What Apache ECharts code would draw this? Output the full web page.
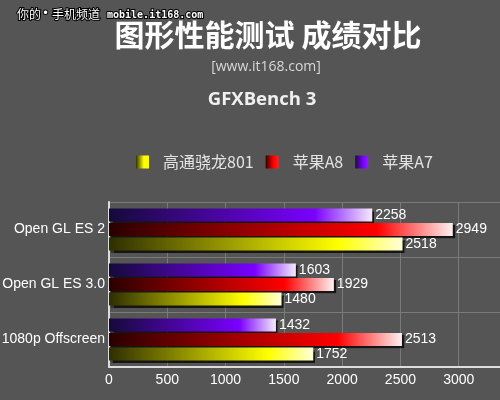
<!DOCTYPE html>
<html><head><meta charset="utf-8">
<script src="https://cdn.jsdelivr.net/npm/echarts@6/dist/echarts.min.js"></script>
<style>html,body{margin:0;padding:0;background:#555555}#c{width:500px;height:400px}</style>
</head><body><div id="c"></div>
<script>
var categories = ['1080p Offscreen', 'Open GL ES 3.0', 'Open GL ES 2'];
var seriesNames = ['高通骁龙801', '苹果A8', '苹果A7'];
var snapdragon801 = [1752, 1480, 2518];
var appleA8 = [2513, 1929, 2949];
var appleA7 = [1432, 1603, 2258];
var xTicks = [0, 500, 1000, 1500, 2000, 2500, 3000];

function grad(dark, mid, light) {
  return new echarts.graphic.LinearGradient(0, 0, 1, 0, [
    {offset: 0, color: dark}, {offset: 0.78, color: mid}, {offset: 1, color: light}
  ]);
}
var colors = [
  grad('#2e2e00', '#ffff00', '#ffffd8'),
  grad('#2a0000', '#ff0000', '#fff0f0'),
  grad('#150a3a', '#7a00ff', '#f4eaff')
];
var legendColors = [
  new echarts.graphic.LinearGradient(0,0,1,0,[{offset:0,color:'#333300'},{offset:0.6,color:'#ffff00'},{offset:1,color:'#ffff00'}]),
  new echarts.graphic.LinearGradient(0,0,1,0,[{offset:0,color:'#330000'},{offset:0.6,color:'#ff0000'},{offset:1,color:'#ff2020'}]),
  new echarts.graphic.LinearGradient(0,0,1,0,[{offset:0,color:'#1a0a40'},{offset:0.6,color:'#7a00ff'},{offset:1,color:'#8a20ff'}])
];
var dataSets = [snapdragon801, appleA8, appleA7];

var chart = echarts.init(document.getElementById('c'));
// series drawn top-to-bottom within each group: A7, A8, 801
var order = [2, 1, 0];
var series = order.map(function (i) {
  return {
    name: seriesNames[i], type: 'bar', data: dataSets[i],
    barWidth: 13, barGap: '12%', barCategoryGap: '25%',
    itemStyle: { color: colors[i], shadowColor: 'rgba(0,0,0,0.75)', shadowOffsetX: 2, shadowOffsetY: 2, shadowBlur: 1 },
    label: { show: true, position: 'right', distance: 3, color: '#ffffff', fontFamily: 'Liberation Sans, Arial', fontSize: 14 }
  };
});
function wmTitle(text, left, top, size, font, weight) {
  return { text: text, left: left, top: top, padding: 0,
    textStyle: { color: '#ffffff', fontSize: size, fontFamily: font, fontWeight: weight,
      textBorderColor: '#000000', textBorderWidth: 2 } };
}
chart.setOption({
  backgroundColor: '#555555',
  animation: false,
  title: [
    { text: '图形性能测试 成绩对比', left: 263, textAlign: 'center', top: 15,
      textStyle: { color: '#ffffff', fontSize: 30, fontWeight: 'bold', fontFamily: 'Noto Sans CJK SC' } },
    { text: '[www.it168.com]', left: 261, textAlign: 'center', top: 55,
      textStyle: { color: '#d8d8d8', fontSize: 14, fontWeight: 'normal', fontFamily: 'Open Sans' } },
    { text: 'GFXBench 3', left: 257, textAlign: 'center', top: 85,
      textStyle: { color: '#f0f0f0', fontSize: 18.5, fontWeight: 'bold', fontFamily: 'Open Sans' } },
    wmTitle('你的', 17, 8, 12, 'Noto Sans CJK SC', 'normal'),
    wmTitle('•', 42, 8, 12, 'DejaVu Sans', 'normal'),
    wmTitle('手机频道', 52, 8, 12, 'Noto Sans CJK SC', 'normal'),
    wmTitle('mobile.it168.com', 107, 10, 10, 'DejaVu Sans Mono', 'bold')
  ],
  legend: {
    data: seriesNames.map(function (n, i) { return { name: n, itemStyle: { color: legendColors[i] } }; }),
    top: 149, left: 131, itemWidth: 13, itemHeight: 13, itemGap: 12,
    icon: 'rect',
    textStyle: { color: '#e4e4e4', fontSize: 16, fontFamily: 'Noto Sans CJK SC', padding: [0, 0, 0, 9] }
  },
  grid: { left: 109, right: -17, top: 202, bottom: 33, containLabel: false, outerBoundsMode: 'none' },
  xAxis: {
    type: 'value', min: 0, max: 3500, interval: 500,
    axisLine: { show: true, lineStyle: { color: '#dddddd', width: 2 } },
    axisTick: { show: false },
    splitLine: { show: true, lineStyle: { color: '#7a7a7a', width: 1 } },
    axisLabel: { color: '#ffffff', fontSize: 14, fontFamily: 'Liberation Sans, Arial', margin: 6,
      formatter: function (v) { return xTicks.indexOf(v) >= 0 ? String(v) : ''; } }
  },
  yAxis: {
    type: 'category', data: categories,
    axisLine: { show: true, lineStyle: { color: '#dddddd', width: 2 } },
    axisTick: { show: false },
    splitLine: { show: true, lineStyle: { color: '#7a7a7a', width: 1 } },
    axisLabel: { color: '#ffffff', fontSize: 14, fontFamily: 'Liberation Sans, Arial', margin: 4 }
  },
  series: series
});
</script></body></html>
